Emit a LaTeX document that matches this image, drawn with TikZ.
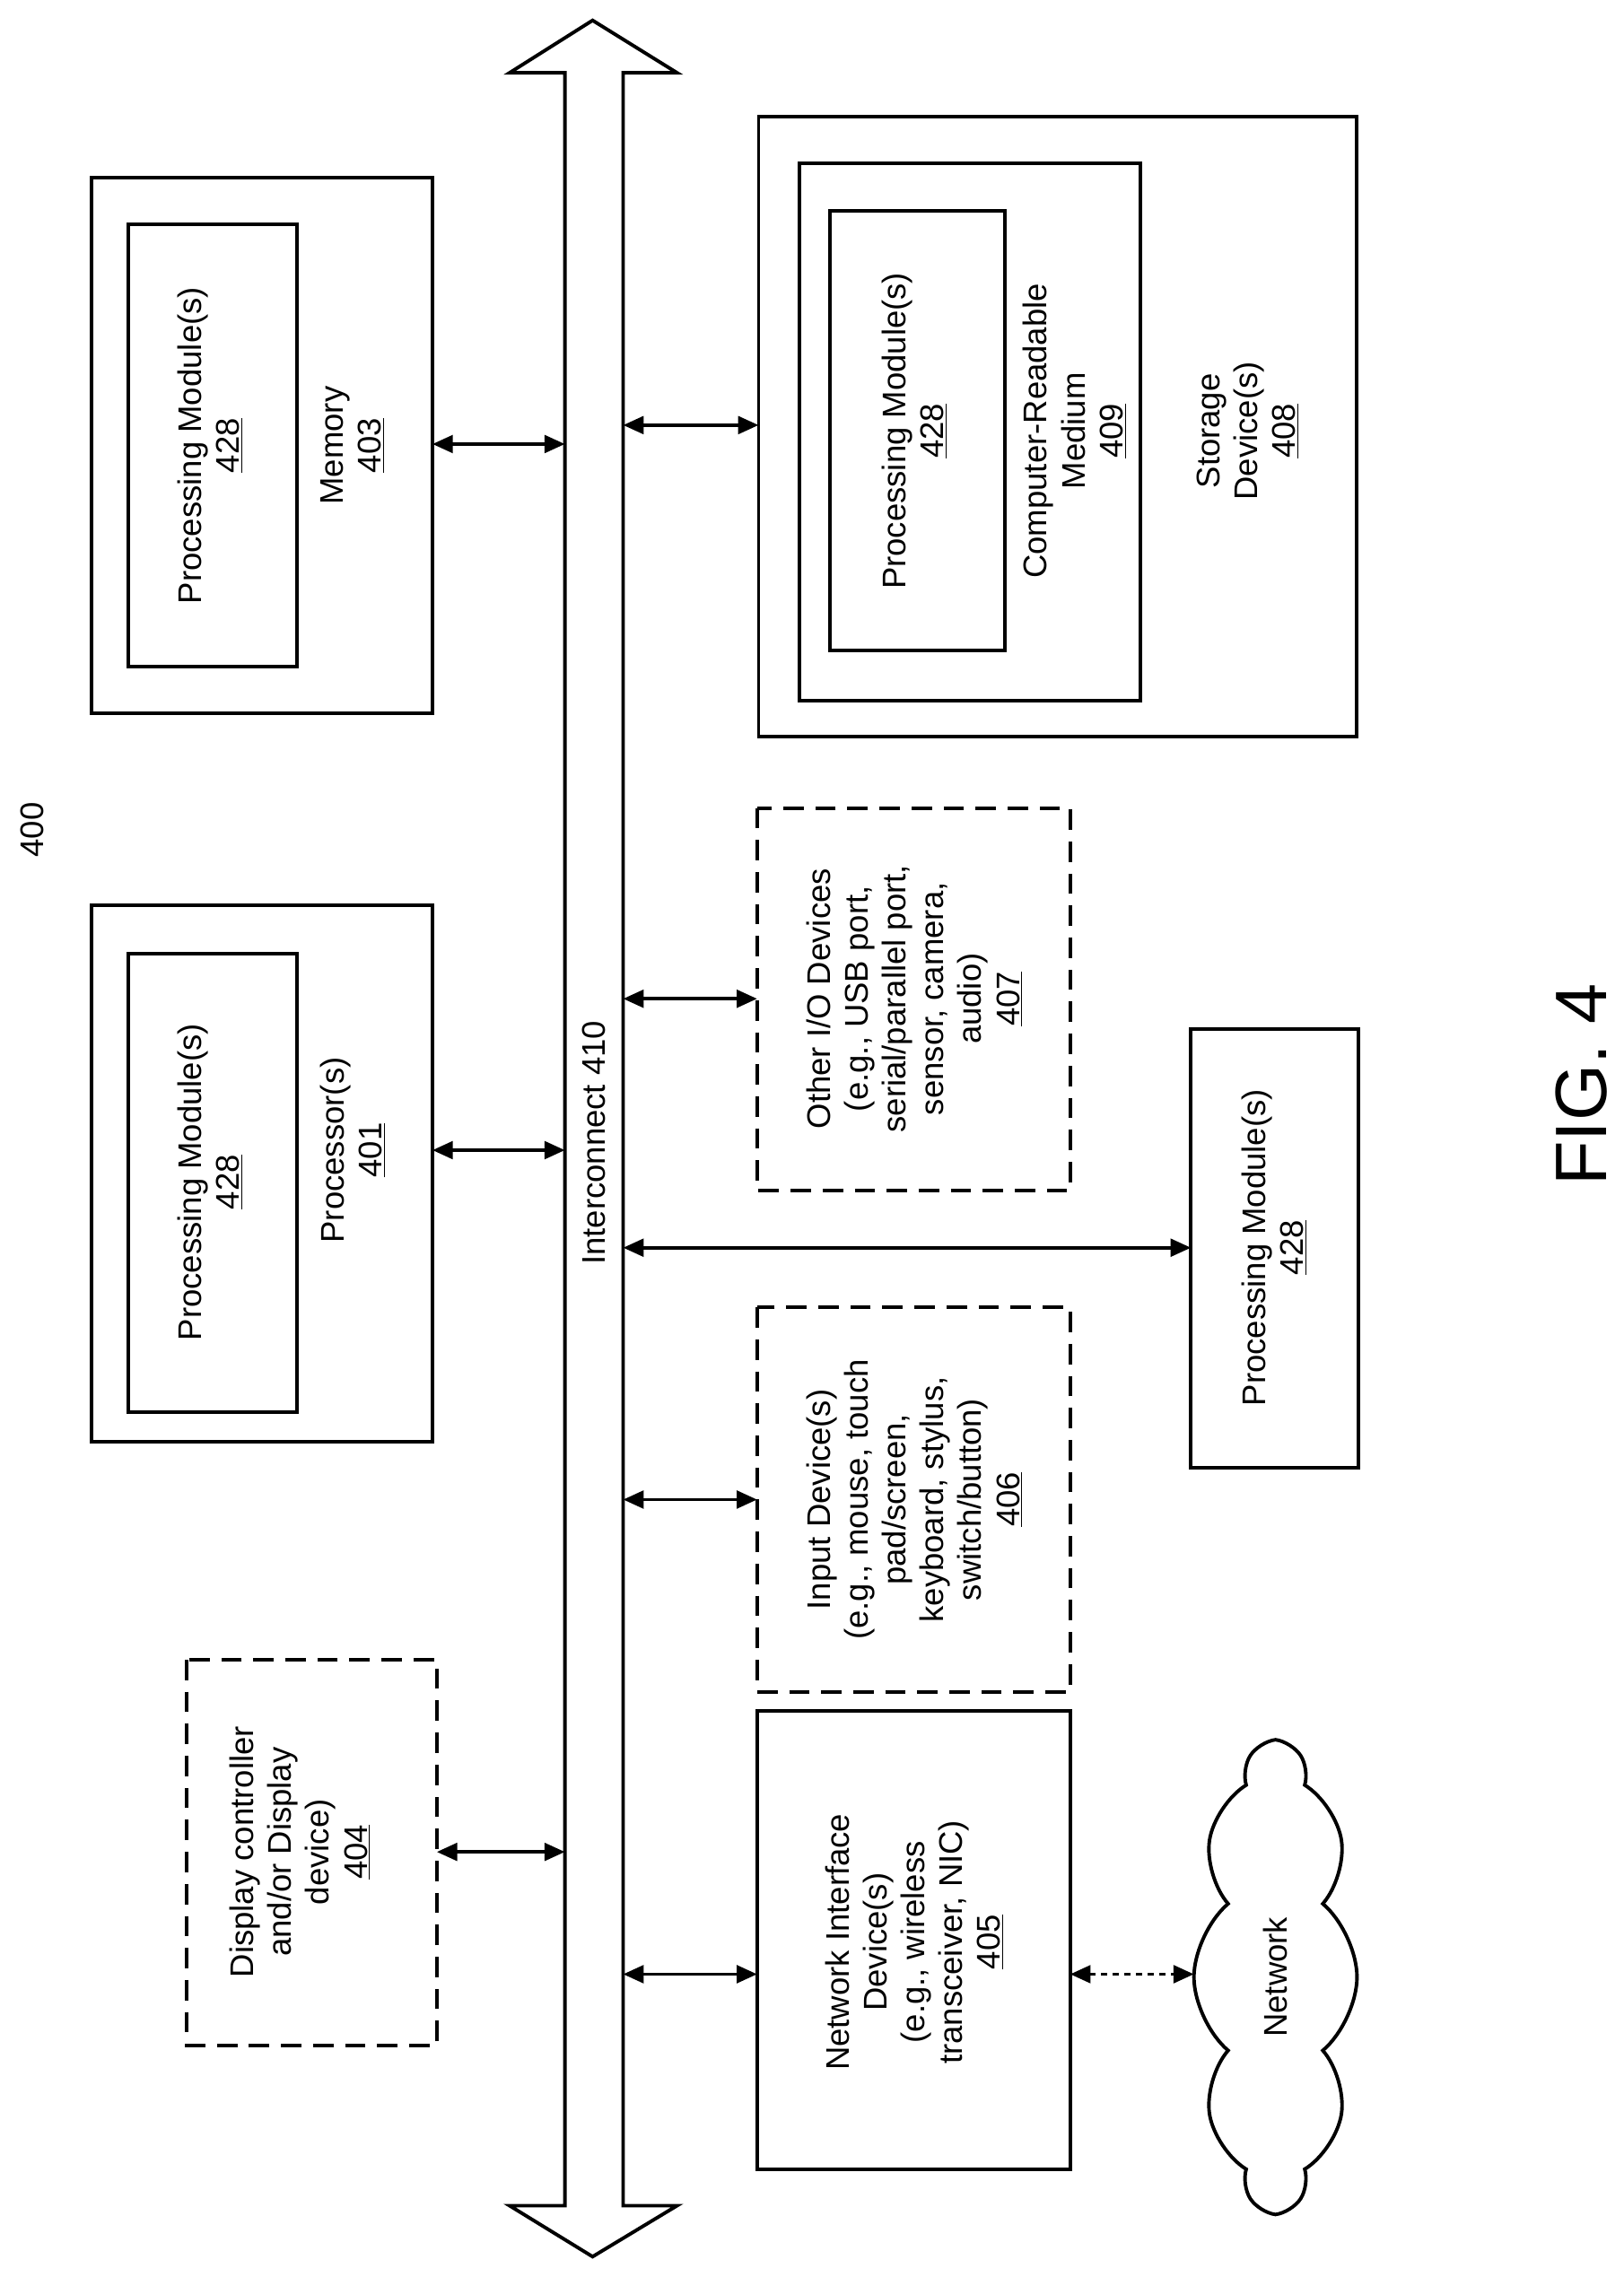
\documentclass[tikz,border=0pt]{standalone}
\usepackage{fontspec}
\setmainfont{Liberation Sans}
\usetikzlibrary{arrows.meta,shapes.symbols}
\begin{document}
\begin{tikzpicture}[x=1pt,y=-1pt,
  box/.style={draw,line width=2.4pt},
  dbox/.style={draw,line width=2.4pt,dash pattern=on 14pt off 8pt},
  lbl/.style={rotate=90,align=center,font=\fontsize{22.5}{26}\selectfont},
  conn/.style={line width=2.4pt,{Triangle[width=12pt,length=14pt]}-{Triangle[width=12pt,length=14pt]}}]
\useasboundingbox (0,0) rectangle (1115,1564);
% bus
\draw[line width=2.4pt] (388,50) -- (350,50) -- (407,14) -- (465,50) -- (428,50) -- (428,1515) -- (465,1515) -- (407,1550) -- (350,1515) -- (388,1515) -- cycle;
\node[lbl] (bus) at (408,785) {Interconnect 410};
\coordinate (bm) at (388,305); \coordinate (bp) at (388,790); \coordinate (bd) at (388,1272);
\coordinate (bs) at (428,292); \coordinate (bo) at (428,686); \coordinate (bq) at (428,857);
\coordinate (bi) at (428,1030); \coordinate (bn) at (428,1356);
% memory
\draw[box] (63,122) rectangle (297,490);
\draw[box] (88,154) rectangle (204,458);
\node[lbl] (pm1) at (144,306) {Processing Module(s)\\\underline{428}};
\node[lbl] (mem) at (242,306) {Memory\\\underline{403}};
\coordinate (memr) at (297,305);
\draw[conn] (memr) -- (bm);
% processor
\draw[box] (63,622) rectangle (297,990);
\draw[box] (88,655) rectangle (204,970);
\node[lbl] (pm2) at (144,812) {Processing Module(s)\\\underline{428}};
\node[lbl] (proc) at (242,790) {Processor(s)\\\underline{401}};
\coordinate (procr) at (297,790);
\draw[conn] (procr) -- (bp);
% display
\draw[dbox] (128,1140) rectangle (300,1405);
\node[lbl] (disp) at (206,1272) {Display controller\\and/or Display\\device)\\\underline{404}};
\coordinate (dispr) at (300,1272);
\draw[conn] (dispr) -- (bd);
% storage
\draw[box] (521,80) rectangle (932,506);
\draw[box] (549,112) rectangle (783,481);
\draw[box] (570,145) rectangle (690,447);
\node[lbl] (pm3) at (628,296) {Processing Module(s)\\\underline{428}};
\node[lbl] (crm) at (738,296) {Computer-Readable\\Medium\\\underline{409}};
\node[lbl] (sto) at (857,296) {Storage\\Device(s)\\\underline{408}};
\coordinate (stol) at (521,292);
\draw[conn] (bs) -- (stol);
% other io
\draw[dbox] (520,555) rectangle (735,818);
\node[lbl] (oio) at (628,686) {Other I/O Devices\\(e.g., USB port,\\serial/parallel port,\\sensor, camera,\\audio)\\\underline{407}};
\coordinate (oiol) at (520,686);
\draw[conn] (bo) -- (oiol);
% processing module
\draw[box] (818,707) rectangle (933,1008);
\node[lbl] (pm4) at (875,857) {Processing Module(s)\\\underline{428}};
\coordinate (pm4l) at (818,857);
\draw[conn] (bq) -- (pm4l);
% input
\draw[dbox] (520,898) rectangle (735,1162);
\node[lbl] (inp) at (628,1030) {Input Device(s)\\(e.g., mouse, touch\\pad/screen,\\keyboard, stylus,\\switch/button)\\\underline{406}};
\coordinate (inpl) at (520,1030);
\draw[conn] (bi) -- (inpl);
% network interface
\draw[box] (520,1175) rectangle (735,1490);
\node[lbl] (nic) at (628,1334) {Network Interface\\Device(s)\\(e.g., wireless\\transceiver, NIC)\\\underline{405}};
\coordinate (nicl) at (520,1356); \coordinate (nicr) at (735,1356);
\draw[conn] (bn) -- (nicl);
% network
\node[draw,line width=2.4pt,cloud,cloud puffs=10,cloud puff arc=100,aspect=2.8,minimum width=320pt,minimum height=112pt,rotate=90] (net) at (876,1358) {};
\node[lbl] (netl) at (876,1358) {Network};
\coordinate (netw) at (820,1356);
\draw[conn,dash pattern=on 4pt off 4pt] (nicr) -- (netw);
% labels
\node[lbl] (n400) at (22,570) {400};
\node[rotate=90,font=\fontsize{50}{54}\selectfont] (fig) at (1086,745) {FIG. 4};
\end{tikzpicture}
\end{document}
